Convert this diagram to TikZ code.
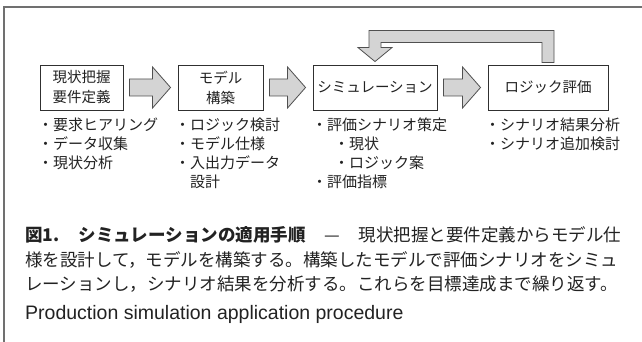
\documentclass[tikz,border=0pt]{standalone}
\usepackage{fontspec}
\setmainfont{Noto Sans CJK JP}
\newfontfamily\latinfont{Liberation Sans}
\usetikzlibrary{calc}
\definecolor{framegray}{HTML}{707070}
\definecolor{arrowfill}{HTML}{D4D4D4}
\definecolor{arrowline}{HTML}{505050}
\definecolor{boxline}{HTML}{303030}
\definecolor{textcol}{HTML}{222222}
\newcommand{\blockarrow}[2]{%
  \draw[blk] ($(#1.east)+(6,-8.5)$) -- ($(#2.west)+(-25,-8.5)$) -- ($(#2.west)+(-25,-20.5)$)
    -- ($(#2.west)+(-7,0)$) -- ($(#2.west)+(-25,20.5)$) -- ($(#2.west)+(-25,8.5)$)
    -- ($(#1.east)+(6,8.5)$) -- cycle;}
\begin{document}
\begin{tikzpicture}[x=1pt,y=-1pt,
  stepbox/.style={draw=boxline, line width=0.9pt, minimum height=45pt, inner sep=0pt,
    align=center, font=\fontsize{14.5}{20}\selectfont, text=textcol},
  blk/.style={draw=arrowline, fill=arrowfill, line width=0.8pt, line join=miter},
  listtxt/.style={anchor=north west, inner sep=0pt, align=left,
    font=\fontsize{15}{19}\selectfont, text=textcol},
  captxt/.style={anchor=west, inner sep=0pt, font=\fontsize{17.5}{17.5}\selectfont, text=textcol}]
\useasboundingbox (0,0) rectangle (642,342);
\fill[white] (0,0) rectangle (642,342);
\draw[framegray, line width=1.3pt] (4,342) -- (4,7) -- (642,7);

\node[stepbox, minimum width=83pt] (b1) at (81.5,87.5) {現状把握\\要件定義};
\node[stepbox, minimum width=85pt] (b2) at (220.5,87.5) {モデル\\構築};
\node[stepbox, minimum width=124pt] (b3) at (375,87.5) {シミュレーション};
\node[stepbox, minimum width=120pt] (b4) at (548,87.5) {ロジック評価};

\blockarrow{b1}{b2}
\blockarrow{b2}{b3}
\blockarrow{b3}{b4}

\draw[blk] ($(b4.north)+(-6,-2)$) -- ($(b4.north)+(-6,-22)$) -- ($(b3.north)+(6,-22)$)
  -- ($(b3.north)+(6,-17)$) -- ($(b3.north)+(17,-17)$) -- ($(b3.north)+(0,-3)$)
  -- ($(b3.north)+(-17,-17)$) -- ($(b3.north)+(-6,-17)$) -- ($(b3.north)+(-6,-34)$)
  -- ($(b4.north)+(6,-34)$) -- ($(b4.north)+(6,-2)$) -- cycle;

\node[listtxt] (l1) at (38,118) {・要求ヒアリング\\・データ収集\\・現状分析};
\node[listtxt] (l2) at (175,118) {・ロジック検討\\・モデル仕様\\・入出力データ\\\hspace*{15pt}設計};
\node[listtxt] (l3) at (312,118) {・評価シナリオ策定\\\hspace*{22pt}・現状\\\hspace*{22pt}・ロジック案\\・評価指標};
\node[listtxt] (l4) at (485,118) {・シナリオ結果分析\\・シナリオ追加検討};

\node[captxt] (c1) at (25,235) {\makebox[596pt][s]{\textbf{図1.\ シミュレーションの適用手順} — 現状把握と要件定義からモデル仕}};
\node[captxt] (c2) at (25,259.5) {様を設計して，モデルを構築する。構築したモデルで評価シナリオをシミュ};
\node[captxt] (c3) at (25,284) {レーションし，シナリオ結果を分析する。これらを目標達成まで繰り返す。};
\node[anchor=west, inner sep=0pt, font=\latinfont\fontsize{19.5}{19.5}\selectfont, text=textcol] (c4) at (25,314) {Production simulation application procedure};
\end{tikzpicture}
\end{document}
